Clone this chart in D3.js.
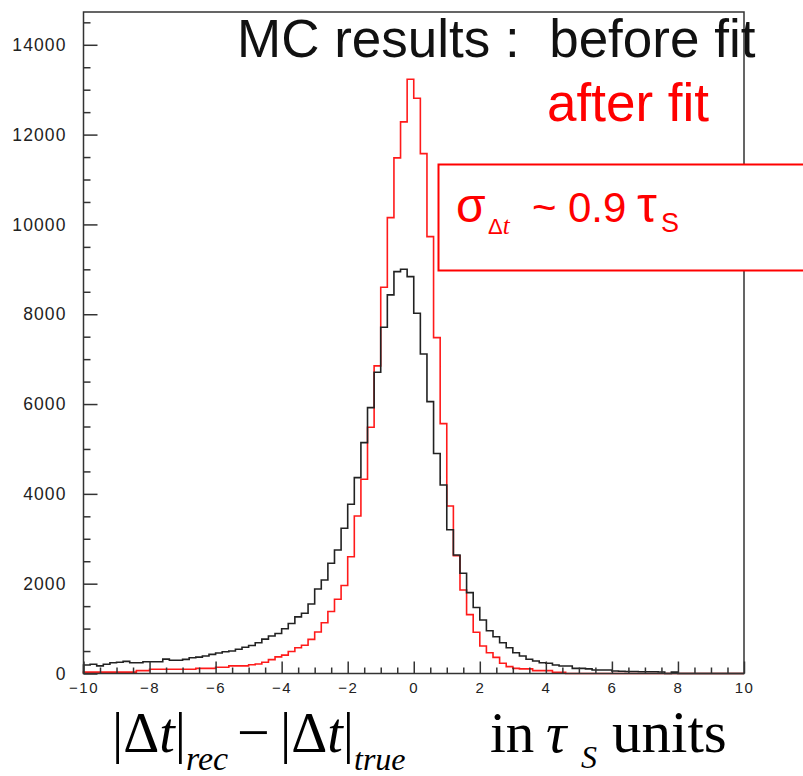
<!DOCTYPE html>
<html>
<head>
<meta charset="utf-8">
<script src="https://cdn.jsdelivr.net/npm/d3@7"></script>
<style>
  html, body { margin: 0; padding: 0; background: #fff; }
  svg { display: block; }
</style>
</head>
<body>
<svg id="chart" width="803" height="776"></svg>
<script>
// ---- DATA ----
const binLow = -10, binHigh = 10, binCount = 100;
const beforeFit = [
  190, 205, 170, 205, 240, 250, 270, 240, 240, 260,
  260, 260, 320, 295, 295, 315, 350, 365, 390, 425,
  455, 485, 500, 540, 585, 625, 686, 765, 835, 890,
  995, 1115, 1260, 1340, 1548, 1882, 2082, 2454, 2750, 3234,
  3768, 4361, 5140, 5920, 6708, 7710, 8430, 8949, 9002, 8837,
  8022, 7116, 6054, 4900, 4198, 3200, 2640, 2231, 1800, 1470,
  1191, 953, 820, 686, 575, 463, 390, 316, 278, 241,
  227, 189, 167, 167, 115, 115, 104, 78, 78, 78,
  56, 50, 45, 45, 40, 40, 40, 35, 0, 30,
  0, 0, 0, 0, 0, 0, 0, 0, 0, 0
];
const afterFit = [
  30, 30, 30, 30, 30, 30, 30, 30, 65, 65,
  95, 95, 95, 95, 95, 95, 95, 115, 115, 115,
  140, 140, 170, 170, 170, 195, 210, 250, 310, 370,
  410, 490, 575, 630, 760, 924, 1130, 1380, 1652, 1960,
  2601, 3508, 4325, 5483, 6849, 8601, 10151, 11481, 12283, 13234,
  12811, 11577, 9728, 7479, 5565, 3731, 2621, 1860, 1310, 917,
  612, 463, 360, 227, 152, 115, 104, 104, 63, 63,
  63, 27, 27, 0, 0, 0, 0, 0, 0, 0,
  0, 0, 0, 0, 0, 0, 0, 0, 0, 0,
  0, 0, 0, 0, 0, 0, 0, 0, 0, 0
];
const yMax = 14730;
const yMajorTicks = [0, 2000, 4000, 6000, 8000, 10000, 12000, 14000];
const xMajorTicks = [-10, -8, -6, -4, -2, 0, 2, 4, 6, 8, 10];

// ---- LAYOUT ----
const L = 83.5, R = 744, T = 12, B = 673.5;
const svg = d3.select("#chart");
const x = d3.scaleLinear().domain([binLow, binHigh]).range([L, R]);
const y = d3.scaleLinear().domain([0, yMax]).range([B, T]);
const binW = (binHigh - binLow) / binCount;

function stepPath(vals) {
  const pts = [];
  pts.push([x(binLow), y(0)]);
  vals.forEach((v, i) => {
    const x0 = x(binLow + i * binW), x1 = x(binLow + (i + 1) * binW);
    pts.push([x0, y(v)]);
    pts.push([x1, y(v)]);
  });
  pts.push([x(binHigh), y(0)]);
  return d3.line()(pts);
}

svg.append("path").attr("d", stepPath(afterFit))
  .attr("fill", "none").attr("stroke", "#ff1a1a").attr("stroke-width", 1.6);
svg.append("path").attr("d", stepPath(beforeFit))
  .attr("fill", "none").attr("stroke", "#222").attr("stroke-width", 1.6);

// frame
svg.append("rect").attr("x", L).attr("y", T).attr("width", R - L).attr("height", B - T)
  .attr("fill", "none").attr("stroke", "#333").attr("stroke-width", 1.5);

// y axis
const yMinor = d3.range(0, yMax, 500).filter(v => v % 2000 !== 0);
const gy = svg.append("g").attr("transform", `translate(${L},0)`);
gy.call(d3.axisLeft(y).tickValues(yMajorTicks).tickSize(-14).tickPadding(17).tickFormat(d3.format("d")));
gy.append("g").call(d3.axisLeft(y).tickValues(yMinor).tickSize(-7).tickFormat(""));
gy.selectAll(".domain").remove();
gy.selectAll("line").attr("stroke", "#333").attr("stroke-width", 1.5);
gy.selectAll("text").attr("font-family", "Liberation Sans, Arial, sans-serif")
  .attr("font-size", 17.5).attr("letter-spacing", 1.1).attr("fill", "#222");

// x axis
const xMinor = d3.range(-10, 10.001, 0.5).filter(v => Math.abs(v % 2) > 1e-6);
const gx = svg.append("g").attr("transform", `translate(0,${B})`);
gx.call(d3.axisBottom(x).tickValues(xMajorTicks).tickSize(-12).tickPadding(9).tickFormat(d3.format("d")));
gx.append("g").call(d3.axisBottom(x).tickValues(xMinor).tickSize(-6).tickFormat(""));
gx.selectAll(".domain").remove();
gx.selectAll("line").attr("stroke", "#333").attr("stroke-width", 1.5);
gx.selectAll("text").attr("font-family", "Liberation Sans, Arial, sans-serif")
  .attr("font-size", 15).attr("letter-spacing", 1.5).attr("fill", "#222");

// titles
const sans = "Liberation Sans, Arial, sans-serif";
const serif = "Liberation Serif, Times New Roman, serif";
svg.append("text").attr("x", 237).attr("y", 57).attr("font-family", sans)
  .attr("font-size", 53).attr("fill", "#111").style("white-space", "pre")
  .text("MC results :  before fit");
svg.append("text").attr("x", 547).attr("y", 121).attr("font-family", sans)
  .attr("font-size", 53).attr("fill", "#ff0000").text("after fit");

// sigma box
svg.append("rect").attr("x", 438.5).attr("y", 164.5).attr("width", 380).attr("height", 106)
  .attr("fill", "#fff").attr("stroke", "#ff0000").attr("stroke-width", 2);
const red = "#ff0000";
const box = svg.append("text").attr("font-family", sans).attr("fill", red);
box.append("tspan").attr("x", 456).attr("y", 222).attr("font-size", 48).text("σ");
box.append("tspan").attr("x", 488).attr("y", 234).attr("font-size", 22).text("Δ");
box.append("tspan").attr("y", 234).attr("font-size", 25)
  .attr("font-family", serif).attr("font-style", "italic").text("t");
box.append("tspan").attr("x", 532).attr("y", 222).attr("font-size", 42).text("~");
box.append("tspan").attr("x", 568).attr("y", 222).attr("font-size", 42).text("0.9");
box.append("tspan").attr("x", 637).attr("y", 222).attr("font-size", 50).text("τ");
box.append("tspan").attr("x", 661).attr("y", 232).attr("font-size", 27).text("S");

// x axis title
const xt = svg.append("text").attr("font-family", serif).attr("fill", "#000");
function k(xp, yp, s, size, italic) {
  const ts = xt.append("tspan").attr("y", yp).attr("font-size", size)
    .attr("font-style", italic ? "italic" : "normal").text(s);
  if (xp !== null) ts.attr("x", xp);
}
k(112, 752, "|Δ", 56);
k(null, 752, "t", 56, true);
k(null, 752, "|", 56);
k(null, 770, "rec", 34, true);
k(237, 752, "−", 58);
k(280, 752, "|Δ", 56);
k(null, 752, "t", 56, true);
k(null, 752, "|", 56);
k(null, 770, "true", 32, true);
k(490, 752, "in", 57);
k(546, 752, "τ", 57, true);
k(581, 768, "S", 32, true);
k(612, 752, "units", 59);
</script>
</body>
</html>
